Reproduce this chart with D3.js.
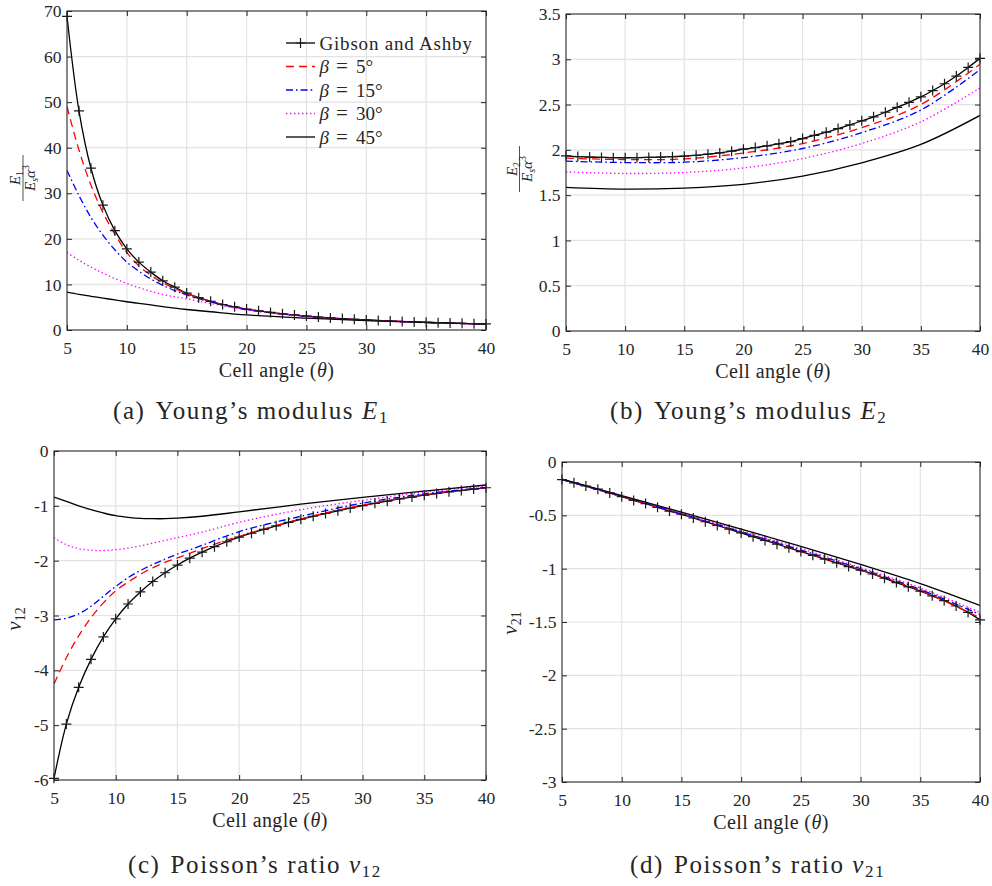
<!DOCTYPE html>
<html><head><meta charset="utf-8">
<script src="https://cdn.jsdelivr.net/npm/d3@7"></script>
<style>
body{margin:0;background:#fff}
svg{display:block}
text{font-family:"Liberation Serif","DejaVu Serif","Noto Serif",serif;fill:#262626}
</style>
</head><body>
<svg id="chart" width="992" height="886"></svg>
<script>
// ---------------- data ----------------
const thetaInt = [5,6,7,8,9,10,11,12,13,14,15,16,17,18,19,20,21,22,23,24,25,26,27,28,29,30,31,32,33,34,35,36,37,38,39,40];
const thetaA = [5,6,7,8,9,10,11,12,13,14,15,17,20,25,30,35,40];
const thetaB = [5,10,15,20,25,30,35,40];
const xTicks = [5,10,15,20,25,30,35,40];
const seriesNames = ["Gibson and Ashby","5","15","30","45"];

// (a) E1/(Es a^3)
const E1_GA = [68.8,48.1,35.5,27.4,21.8,17.8,14.9,12.7,10.8,9.4,8.1,7.1,6.3,5.6,5.1,4.6,4.2,3.85,3.55,3.3,3.05,2.85,2.65,2.5,2.35,2.2,2.08,1.97,1.87,1.78,1.69,1.6,1.53,1.46,1.39,1.33];
const E1_b5  = [49,39.5,31.8,25.8,21.0,17.0,14.1,12.0,10.4,9.1,8.0,6.25,4.58,3.03,2.2,1.68,1.3];
const E1_b15 = [35,29.5,24.7,20.8,17.6,14.9,12.9,11.2,9.8,8.65,7.7,6.15,4.5,3.0,2.18,1.66,1.3];
const E1_b30 = [17,15.3,13.8,12.5,11.3,10.2,9.3,8.5,7.8,7.3,6.85,5.8,4.4,2.95,2.1,1.6,1.25];
const E1_b45 = [8.3,7.8,7.4,7.0,6.6,6.2,5.85,5.5,5.15,4.8,4.5,4.0,3.3,2.6,2.05,1.65,1.3];
const yTicksE1 = [0,10,20,30,40,50,60,70];

// (b) E2/(Es a^3)
const E2_GA = [1.934,1.926,1.92,1.916,1.914,1.913,1.914,1.916,1.92,1.925,1.93,1.94,1.952,1.966,1.985,2.007,2.025,2.045,2.067,2.09,2.125,2.16,2.195,2.235,2.275,2.32,2.365,2.415,2.47,2.525,2.585,2.655,2.73,2.815,2.91,3.01];
const E2_b5  = [1.908,1.893,1.90,1.965,2.07,2.245,2.50,2.945];
const E2_b15 = [1.875,1.86,1.864,1.915,2.015,2.19,2.44,2.885];
const E2_b30 = [1.757,1.739,1.75,1.80,1.904,2.07,2.31,2.684];
const E2_b45 = [1.585,1.566,1.578,1.62,1.71,1.857,2.06,2.38];
const yTicksE2 = [0,0.5,1,1.5,2,2.5,3,3.5];

// (c) nu12
const N12_GA = [-5.97,-4.98,-4.31,-3.80,-3.39,-3.06,-2.79,-2.57,-2.38,-2.22,-2.08,-1.955,-1.845,-1.745,-1.655,-1.57,-1.50,-1.43,-1.365,-1.30,-1.245,-1.19,-1.14,-1.09,-1.04,-0.995,-0.955,-0.915,-0.875,-0.84,-0.805,-0.775,-0.745,-0.72,-0.695,-0.67];
const N12_b5  = [-4.25,-3.77,-3.37,-3.04,-2.77,-2.55,-2.39,-2.25,-2.13,-2.03,-1.95,-1.78,-1.555,-1.24,-0.985,-0.80,-0.67];
const N12_b15 = [-3.08,-3.05,-2.97,-2.83,-2.65,-2.47,-2.31,-2.18,-2.07,-1.97,-1.88,-1.72,-1.47,-1.19,-0.95,-0.78,-0.665];
const N12_b30 = [-1.58,-1.71,-1.78,-1.81,-1.815,-1.80,-1.77,-1.73,-1.68,-1.63,-1.58,-1.48,-1.30,-1.07,-0.90,-0.75,-0.64];
const N12_b45 = [-0.84,-0.92,-1.0,-1.07,-1.13,-1.18,-1.21,-1.23,-1.235,-1.235,-1.225,-1.19,-1.11,-0.97,-0.845,-0.73,-0.62];
const yTicksN12 = [-6,-5,-4,-3,-2,-1,0];

// (d) nu21
const N21_GA = [-0.165,-0.195,-0.225,-0.255,-0.29,-0.325,-0.36,-0.39,-0.425,-0.46,-0.49,-0.525,-0.56,-0.595,-0.63,-0.665,-0.70,-0.735,-0.77,-0.805,-0.84,-0.875,-0.91,-0.945,-0.98,-1.015,-1.05,-1.09,-1.13,-1.17,-1.21,-1.255,-1.3,-1.35,-1.41,-1.48];
const N21_b5  = [-0.165,-0.325,-0.49,-0.66,-0.835,-1.01,-1.205,-1.46];
const N21_b15 = [-0.165,-0.323,-0.485,-0.655,-0.825,-1.0,-1.195,-1.43];
const N21_b30 = [-0.164,-0.32,-0.48,-0.645,-0.812,-0.99,-1.18,-1.41];
const N21_b45 = [-0.16,-0.315,-0.47,-0.63,-0.79,-0.96,-1.14,-1.345];
const yTicksN21 = [-3,-2.5,-2,-1.5,-1,-0.5,0];

// ---------------- drawing ----------------
const svg = d3.select("#chart");
const FONT = "Liberation Serif, DejaVu Serif, serif";
const INK = "#262626";
const styles = [
  {color:"#ff0000", dash:"8,5"},
  {color:"#0000ff", dash:"7,3,1.6,3"},
  {color:"#ff00ff", dash:"1.4,2.6"},
  {color:"#000000", dash:null}
];

const panels = [
  {key:"a", box:[67,486,11,330], ydom:[0,70], yt:yTicksE1, ga:E1_GA, th:thetaA, betas:[E1_b5,E1_b15,E1_b30,E1_b45]},
  {key:"b", box:[566,980,14,331], ydom:[0,3.5], yt:yTicksE2, ga:E2_GA, th:thetaB, betas:[E2_b5,E2_b15,E2_b30,E2_b45]},
  {key:"c", box:[54,486,451,780], ydom:[-6,0], yt:yTicksN12, ga:N12_GA, th:thetaA, betas:[N12_b5,N12_b15,N12_b30,N12_b45]},
  {key:"d", box:[562,980,462,782], ydom:[-3,0], yt:yTicksN21, ga:N21_GA, th:thetaB, betas:[N21_b5,N21_b15,N21_b30,N21_b45]}
];

panels.forEach(p => {
  const [L,R,T,B] = p.box;
  const x = d3.scaleLinear().domain([5,40]).range([L,R]);
  const y = d3.scaleLinear().domain(p.ydom).range([B,T]);
  const g = svg.append("g");
  // grid
  g.append("g").selectAll("line").data(xTicks.slice(1,-1)).join("line")
    .attr("x1",d=>x(d)).attr("x2",d=>x(d)).attr("y1",T).attr("y2",B)
    .attr("stroke","#e3e3e3").attr("stroke-width",1.2);
  g.append("g").selectAll("line").data(p.yt.slice(1,-1)).join("line")
    .attr("x1",L).attr("x2",R).attr("y1",d=>y(d)).attr("y2",d=>y(d))
    .attr("stroke","#e3e3e3").attr("stroke-width",1.2);
  // clip
  const cid = "clip-"+p.key;
  svg.append("clipPath").attr("id",cid).append("rect")
    .attr("x",L).attr("y",T-1).attr("width",R-L).attr("height",B-T+2);
  const cg = g.append("g").attr("clip-path",`url(#${cid})`);
  const mk = xs => d3.line().x((d,i)=>x(xs[i])).y(d=>y(d)).curve(d3.curveCatmullRom.alpha(0.5));
  // Gibson and Ashby
  cg.append("path").attr("d", mk(thetaInt)(p.ga))
    .attr("fill","none").attr("stroke","#000").attr("stroke-width",1.3);
  g.append("g").selectAll("path").data(p.ga).join("path")
    .attr("transform",(d,i)=>`translate(${x(thetaInt[i])},${y(d)})`)
    .attr("d","M-5,0H5M0,-5V5")
    .attr("stroke","#1a1a1a").attr("stroke-width",1.2).attr("fill","none");
  // beta series
  p.betas.forEach((vals,k) => {
    cg.append("path").attr("d", mk(p.th)(vals))
      .attr("fill","none").attr("stroke",styles[k].color).attr("stroke-width",1.3)
      .attr("stroke-dasharray",styles[k].dash);
  });
  // axes
  const fmt = d => String(d);
  const bx = g.append("g").attr("transform",`translate(0,${B})`)
    .call(d3.axisBottom(x).tickValues(xTicks).tickSize(-5).tickPadding(11.4).tickFormat(fmt));
  const tx = g.append("g").attr("transform",`translate(0,${T})`)
    .call(d3.axisTop(x).tickValues(xTicks).tickSize(-5).tickFormat(""));
  const ly = g.append("g").attr("transform",`translate(${L},0)`)
    .call(d3.axisLeft(y).tickValues(p.yt).tickSize(-5).tickPadding(5.5).tickFormat(fmt));
  const ry = g.append("g").attr("transform",`translate(${R},0)`)
    .call(d3.axisRight(y).tickValues(p.yt).tickSize(-5).tickFormat(""));
  [bx,tx,ly,ry].forEach(a => {
    a.attr("font-family",FONT).attr("font-size",17.5);
    a.select(".domain").remove();
    a.selectAll(".tick line").attr("stroke",INK).attr("stroke-width",1);
    a.selectAll(".tick text").attr("fill",INK);
  });
  g.append("rect").attr("x",L).attr("y",T).attr("width",R-L).attr("height",B-T)
    .attr("fill","none").attr("stroke",INK).attr("stroke-width",1.1);
  // x label
  const xl = g.append("text").attr("x",(L+R)/2).attr("y",B+47).attr("text-anchor","middle")
    .attr("font-size",20).attr("letter-spacing",0.4);
  xl.append("tspan").text("Cell angle (");
  xl.append("tspan").attr("font-style","italic").text("θ");
  xl.append("tspan").text(")");
});

// ---- y labels ----
function fracLabel(cx, cy, sub){
  const g = svg.append("g").attr("transform",`translate(${cx},${cy}) rotate(-90)`);
  const num = g.append("text").attr("x",0).attr("y",-3).attr("text-anchor","middle").attr("font-size",15);
  num.append("tspan").attr("font-style","italic").text("E");
  num.append("tspan").attr("font-size",10).attr("dy",3).text(sub);
  g.append("line").attr("x1",-23).attr("x2",23).attr("y1",0).attr("y2",0).attr("stroke",INK).attr("stroke-width",0.8);
  const den = g.append("text").attr("x",0).attr("y",12).attr("text-anchor","middle").attr("font-size",15);
  den.append("tspan").attr("font-style","italic").text("E");
  den.append("tspan").attr("font-size",10).attr("font-style","italic").attr("dy",3).text("s");
  den.append("tspan").attr("font-style","italic").attr("dy",-3).text("α");
  den.append("tspan").attr("font-size",10).attr("dy",-6).text("3");
}
fracLabel(23, 178, "1");
fracLabel(519.5, 169, "2");
function nuLabel(cx, cy, sub){
  const t = svg.append("text").attr("transform",`translate(${cx},${cy}) rotate(-90)`)
    .attr("text-anchor","middle").attr("font-size",21);
  t.append("tspan").attr("font-style","italic").text("ν");
  t.append("tspan").attr("font-size",14).attr("dy",4).text(sub);
}
nuLabel(21, 619, "12");
nuLabel(517, 623, "21");

// ---- legend (panel a) ----
const legY = [43,66.5,90,113.5,137];
const lg = svg.append("g");
seriesNames.forEach((name,i) => {
  const yy = legY[i];
  if(i===0){
    lg.append("line").attr("x1",286).attr("x2",315).attr("y1",yy).attr("y2",yy).attr("stroke","#000").attr("stroke-width",1.3);
    lg.append("path").attr("transform",`translate(300.5,${yy})`).attr("d","M-5,0H5M0,-5V5").attr("stroke","#1a1a1a").attr("stroke-width",1.2);
  } else {
    const s = styles[i-1];
    lg.append("line").attr("x1",286).attr("x2",315).attr("y1",yy).attr("y2",yy)
      .attr("stroke",s.color).attr("stroke-width",1.3).attr("stroke-dasharray",s.dash);
  }
  const t = lg.append("text").attr("y",yy).attr("dy","0.35em").attr("font-size",19);
  if(i===0){ t.attr("x",319.5).attr("letter-spacing",0.8).text(name); }
  else {
    t.append("tspan").attr("x",319.5).attr("font-style","italic").text("β");
    t.append("tspan").attr("x",336).attr("font-size",21).text("=");
    t.append("tspan").attr("x",356).text(name + "°");
  }
});

// ---- captions ----
function caption(x0, yb, tag, body, sym, sub){
  const t = svg.append("text").attr("x",x0).attr("y",yb).attr("font-size",25).attr("letter-spacing",1.6);
  t.append("tspan").text(tag);
  t.append("tspan").attr("dx",10).text(body + " ");
  t.append("tspan").attr("font-style","italic").text(sym);
  t.append("tspan").attr("font-size",17).attr("dy",4).text(sub);
}
caption(113, 419, "(a)", "Young’s modulus", "E", "1");
caption(610, 419, "(b)", "Young’s modulus", "E", "2");
caption(128, 873, "(c)", "Poisson’s ratio", "ν", "12");
caption(630, 873, "(d)", "Poisson’s ratio", "ν", "21");
</script>
</body></html>
